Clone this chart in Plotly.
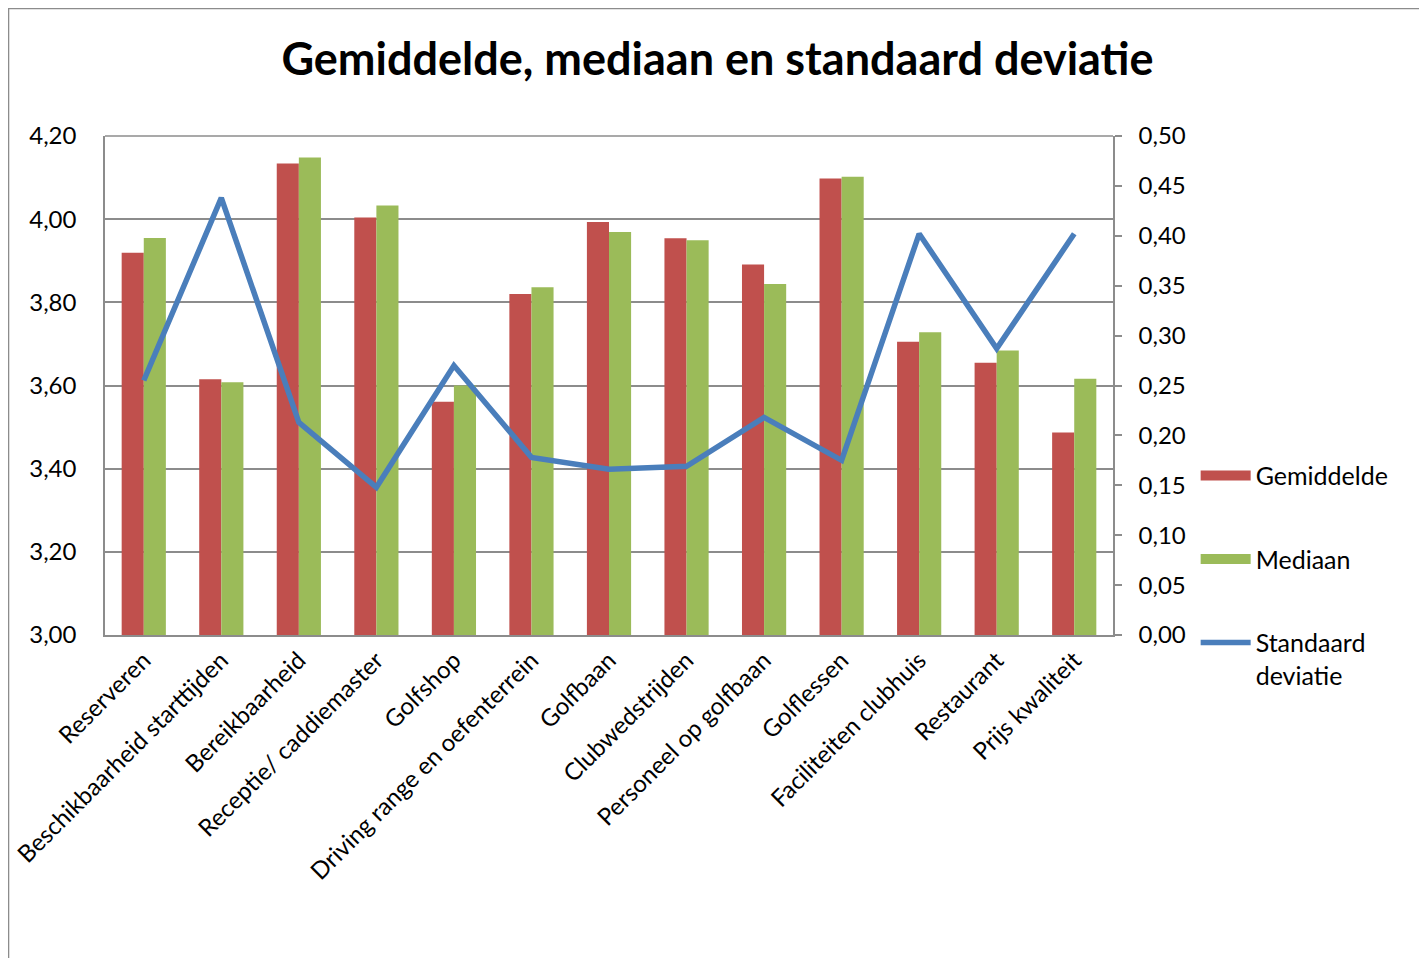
import plotly.graph_objects as go

categories = ["Reserveren", "Beschikbaarheid starttijden", "Bereikbaarheid",
              "Receptie/ caddiemaster", "Golfshop", "Driving range en oefenterrein",
              "Golfbaan", "Clubwedstrijden", "Personeel op golfbaan", "Golflessen",
              "Faciliteiten clubhuis", "Restaurant", "Prijs kwaliteit"]
gemiddelde = [3.919, 3.615, 4.134, 4.004, 3.561, 3.820, 3.993, 3.954, 3.891, 4.098, 3.705, 3.655, 3.487]
mediaan = [3.955, 3.608, 4.148, 4.033, 3.600, 3.836, 3.969, 3.949, 3.844, 4.102, 3.728, 3.684, 3.616]
std_dev = [0.255, 0.438, 0.213, 0.148, 0.270, 0.178, 0.166, 0.169, 0.218, 0.175, 0.402, 0.287, 0.402]

left_ticks = [3.0, 3.2, 3.4, 3.6, 3.8, 4.0, 4.2]
right_ticks = [0.0, 0.05, 0.10, 0.15, 0.20, 0.25, 0.30, 0.35, 0.40, 0.45, 0.50]

FONT = "Lato"
GRID = "#8c8c8c"
RED = "#C0504D"
GREEN = "#9BBB59"
BLUE = "#4A7EBB"

fig = go.Figure()
fig.add_trace(go.Bar(x=categories, y=gemiddelde, name="Gemiddelde",
                     marker=dict(color=RED, line=dict(width=0)),
                     showlegend=False))
fig.add_trace(go.Bar(x=categories, y=mediaan, name="Mediaan",
                     marker=dict(color=GREEN, line=dict(width=0)),
                     showlegend=False))
fig.add_trace(go.Scatter(x=categories, y=std_dev, name="Standaard deviatie",
                         mode="lines", line=dict(color=BLUE, width=5.5),
                         yaxis="y2", showlegend=False))
# legend entries (wide rectangles like the original legend keys)
fig.add_trace(go.Scatter(x=[None], y=[None], name="Gemiddelde", mode="lines",
                         line=dict(color=RED, width=15), legendgroup="a"))
fig.add_trace(go.Scatter(x=[None], y=[None], name="Mediaan", mode="lines",
                         line=dict(color=GREEN, width=15), legendgroup="b"))
fig.add_trace(go.Scatter(x=[None], y=[None], name="Standaard<br>deviatie", mode="lines",
                         line=dict(color=BLUE, width=5.5), legendgroup="c"))

# outer chart border
fig.add_shape(type="rect", xref="paper", yref="paper",
              x0=-0.0957, x1=1.3046, y0=-0.70, y1=1.2555,
              line=dict(color="#8c8c8c", width=1.5), layer="below")
# top border of plot area
fig.add_shape(type="line", xref="paper", yref="paper", x0=0, x1=1, y0=1, y1=1,
              line=dict(color=GRID, width=1.5))

fig.update_layout(
    width=1419, height=950,
    margin=dict(l=97, r=314, t=128, b=323, autoexpand=False),
    paper_bgcolor="white", plot_bgcolor="white",
    separators=",.",
    barmode="group", bargap=0.43, bargroupgap=0,
    font=dict(family=FONT, size=24, color="black"),
    title=dict(text="<b>Gemiddelde, mediaan en standaard deviatie</b>",
               x=0.5, xanchor="center", y=0.946, yanchor="middle",
               font=dict(family=FONT, size=45, color="black")),
    xaxis=dict(tickangle=-45, showline=True, linecolor=GRID, linewidth=1.5,
               mirror=False, ticks="", showgrid=False, automargin=False,
               tickfont=dict(size=24)),
    yaxis=dict(range=[3.0, 4.2], tickvals=left_ticks, tickformat=".2f",
               showline=True, linecolor=GRID, linewidth=1.5,
               showgrid=True, gridcolor=GRID, gridwidth=1.5, automargin=False,
               ticks="", ticklabelstandoff=22, zeroline=False,
               tickfont=dict(size=24)),
    yaxis2=dict(range=[0, 0.5], tickvals=right_ticks, tickformat=".2f",
                overlaying="y", side="right", showline=True, linecolor=GRID,
                linewidth=1.5, showgrid=False, ticks="outside", ticklen=7,
                tickcolor=GRID, tickwidth=1.5, ticklabelstandoff=12,
                zeroline=False, automargin=False, tickfont=dict(size=24)),
    showlegend=True,
    legend=dict(x=1.082, xanchor="left", y=0.365, yanchor="top",
                tracegroupgap=48, valign="top", font=dict(size=25),
                bgcolor="rgba(0,0,0,0)", itemwidth=50),
)

fig.write_html("out.html")
